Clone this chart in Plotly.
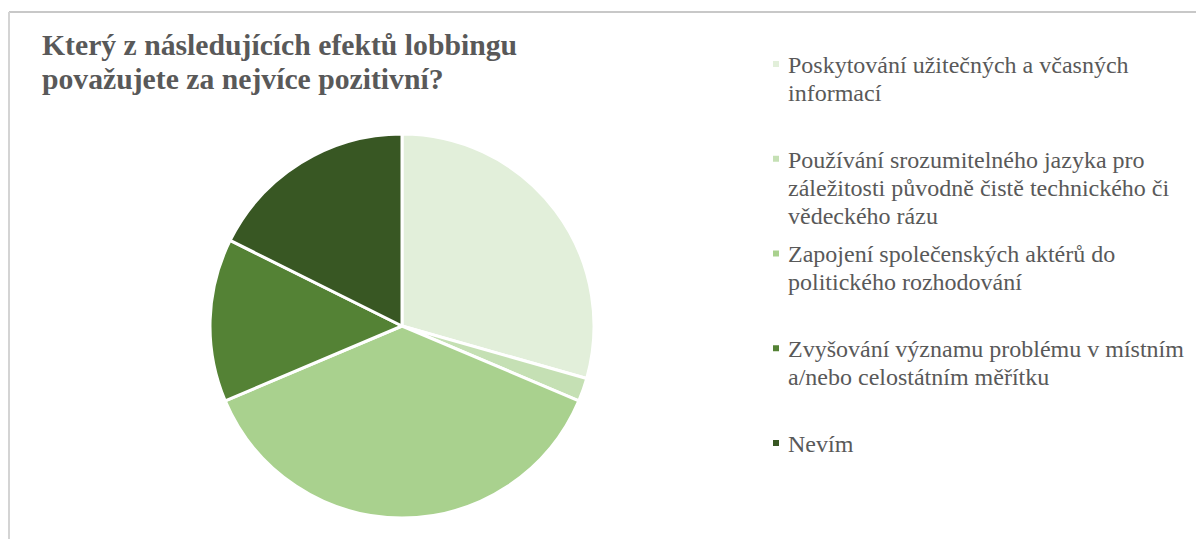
import plotly.graph_objects as go

# Data
labels = [
    "Poskytování užitečných a včasných informací",
    "Používání srozumitelného jazyka pro záležitosti původně čistě technického či vědeckého rázu",
    "Zapojení společenských aktérů do politického rozhodování",
    "Zvyšování významu problému v místním a/nebo celostátním měřítku",
    "Nevím",
]
legend_lines = [
    ["Poskytování užitečných a včasných", "informací"],
    ["Používání srozumitelného jazyka pro", "záležitosti původně čistě technického či", "vědeckého rázu"],
    ["Zapojení společenských aktérů do", "politického rozhodování"],
    ["Zvyšování významu problému v místním", "a/nebo celostátním měřítku"],
    ["Nevím"],
]
values = [15, 1, 19, 7, 9]
colors = ["#E2EFDA", "#C5E0B4", "#A9D18E", "#548235", "#385723"]
title_lines = ["Který z následujících efektů lobbingu", "považujete za nejvíce pozitivní?"]

# page has an 8px body margin; figure sized to fit the window
OFF = 8
W, H = 1204 - OFF, 539 - OFF

def px(x):
    return (x - OFF) / W

def py(y):
    return 1 - (y - OFF) / H

fig = go.Figure()
fig.add_trace(go.Pie(
    labels=labels,
    values=values,
    sort=False,
    direction="clockwise",
    rotation=0,
    marker=dict(colors=colors, line=dict(color="white", width=3)),
    textinfo="none",
    hoverinfo="label+value+percent",
    domain=dict(x=[px(210), px(594)], y=[py(518), py(134)]),
    showlegend=False,
))

font_family = "Liberation Serif"
annotations = []
shapes = [
    dict(type="line", xref="paper", yref="paper",
         x0=px(9), x1=1.02, y0=py(12), y1=py(12),
         line=dict(color="#C8C8C8", width=2)),
    dict(type="line", xref="paper", yref="paper",
         x0=px(9), x1=px(9), y0=py(12), y1=-0.02,
         line=dict(color="#D4D4D4", width=2)),
]

# title, line by line (baseline positions)
t_fs = 29.7
for j, line in enumerate(title_lines):
    base = 54 + j * 34
    annotations.append(dict(
        text="<b>" + line + "</b>",
        x=px(40), y=py(base - 0.3 * t_fs), xref="paper", yref="paper",
        xanchor="left", yanchor="middle", align="left", showarrow=False,
        font=dict(family=font_family, size=t_fs, color="#595959"),
    ))

# legend, drawn manually
l_fs = 24
for i, (lines, c) in enumerate(zip(legend_lines, colors)):
    base0 = 72 + i * 94.75
    for j, line in enumerate(lines):
        base = base0 + j * 28
        annotations.append(dict(
            text=line, x=px(786), y=py(base - 0.3 * l_fs), xref="paper", yref="paper",
            xanchor="left", yanchor="middle", align="left", showarrow=False,
            font=dict(family=font_family, size=l_fs, color="#595959"),
        ))
    cy = base0 - 8
    shapes.append(dict(
        type="rect", xref="paper", yref="paper",
        x0=px(773), x1=px(779), y0=py(cy + 3), y1=py(cy - 3),
        fillcolor=c, line=dict(width=0),
    ))

fig.update_layout(
    width=W, height=H,
    margin=dict(l=0, r=0, t=0, b=0),
    paper_bgcolor="white",
    plot_bgcolor="white",
    annotations=annotations,
    shapes=shapes,
)

fig.write_html("out.html")
